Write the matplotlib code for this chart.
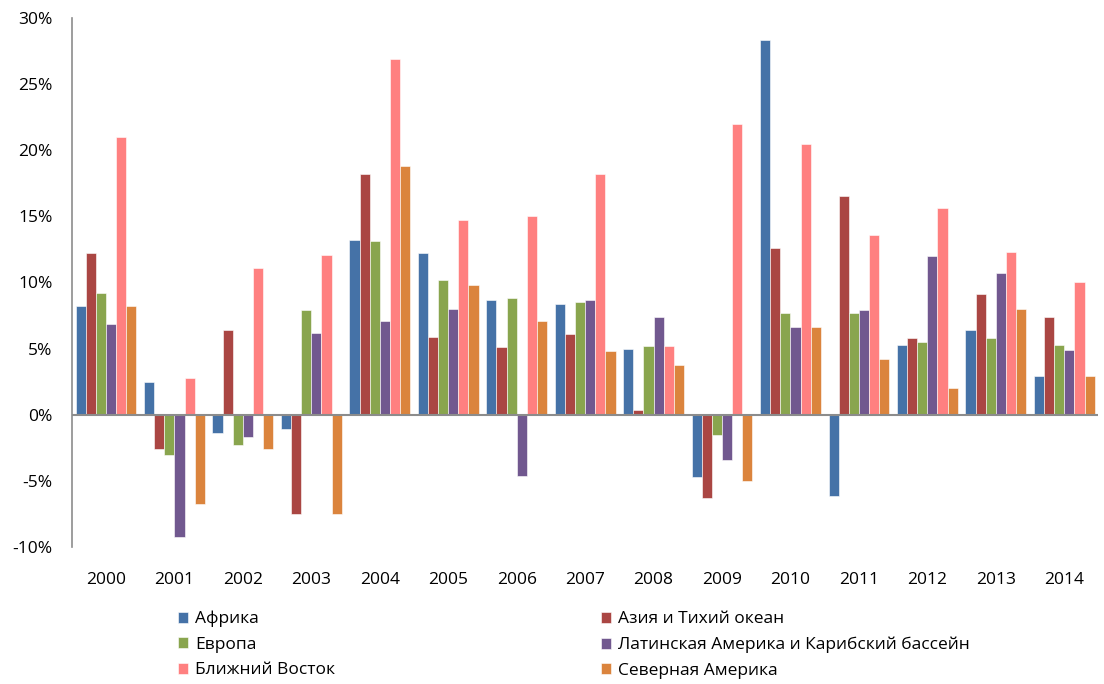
import numpy as np
import matplotlib.pyplot as plt
from matplotlib.ticker import FuncFormatter

plt.rcParams['font.family'] = ['Open Sans', 'DejaVu Sans']

# данные
years = ['2000', '2001', '2002', '2003', '2004', '2005', '2006', '2007',
         '2008', '2009', '2010', '2011', '2012', '2013', '2014']
africa = [8.2, 2.5, -1.4, -1.1, 13.2, 12.2, 8.7, 8.4, 5.0, -4.7, 28.3, -6.1, 5.3, 6.4, 2.9]
asia = [12.2, -2.6, 6.4, -7.5, 18.2, 5.9, 5.1, 6.1, 0.35, -6.3, 12.6, 16.5, 5.8, 9.1, 7.4]
europe = [9.2, -3.0, -2.3, 7.9, 13.1, 10.2, 8.8, 8.5, 5.2, -1.5, 7.7, 7.7, 5.5, 5.8, 5.3]
latam = [6.9, -9.2, -1.7, 6.2, 7.1, 8.0, -4.6, 8.7, 7.4, -3.4, 6.6, 7.9, 12.0, 10.7, 4.9]
mideast = [21.0, 2.8, 11.1, 12.1, 26.9, 14.7, 15.0, 18.2, 5.2, 22.0, 20.5, 13.6, 15.6, 12.3, 10.0]
namerica = [8.2, -6.7, -2.6, -7.5, 18.8, 9.8, 7.1, 4.8, 3.8, -5.0, 6.6, 4.2, 2.0, 8.0, 2.9]

names = ['Африка', 'Азия и Тихий океан', 'Европа',
         'Латинская Америка и Карибский бассейн', 'Ближний Восток', 'Северная Америка']
series = [africa, asia, europe, latam, mideast, namerica]
colors = ['#4572A7', '#AA4643', '#89A54E', '#71588F', '#FF8080', '#DB843D']

fig = plt.figure(figsize=(11.04, 6.84), dpi=100)
ax = fig.add_axes([0.065, 0.2, 0.93, 0.774])

x = np.arange(len(years))
w = 0.148
bars = []
for i, (vals, c, n) in enumerate(zip(series, colors, names)):
    b = ax.bar(x + (i - 2.5) * w, vals, w, color=c, label=n,
               edgecolor='white', linewidth=0.4)
    bars.append(b)

ax.set_xlim(-0.5, len(years) - 0.5)
ax.set_ylim(-10, 30)
ax.set_yticks(np.arange(-10, 31, 5))
ax.yaxis.set_major_formatter(FuncFormatter(lambda v, p: '%d%%' % v))
ax.axhline(0, color='#8c8c8c', linewidth=1.5, zorder=3)

for s in ['top', 'right', 'bottom']:
    ax.spines[s].set_visible(False)
ax.spines['left'].set_color('#8c8c8c')
ax.spines['left'].set_linewidth(1.2)

ax.set_xticks(x)
ax.set_xticklabels(years)
ax.tick_params(axis='x', length=0, pad=18, labelsize=12.5)
ax.tick_params(axis='y', length=0, pad=14, labelsize=12.5)

# легенда: по строкам, 2 колонки
order = [0, 2, 4, 1, 3, 5]
fig.legend([bars[i] for i in order], [names[i] for i in order],
           ncol=2, loc='upper left', bbox_to_anchor=(0.147, 0.13),
           frameon=False, fontsize=12.5, handlelength=0.6, handleheight=0.6,
           handletextpad=0.4, labelspacing=0.55, columnspacing=15.3)

fig.savefig('out.png', dpi=100)
